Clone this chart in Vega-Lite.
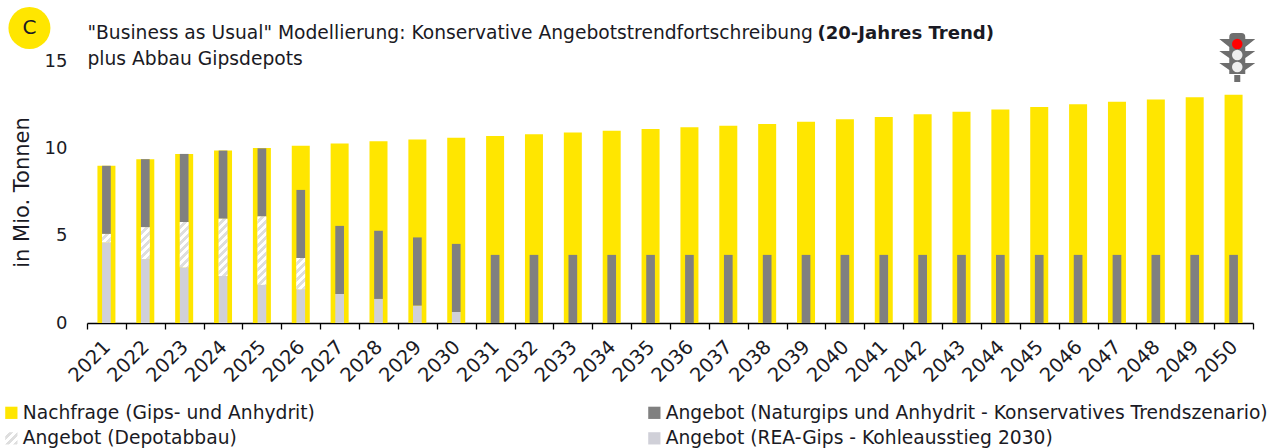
{
"$schema":"https://vega.github.io/schema/vega-lite/v6.json",
"width":1166,"height":262,
"autosize":{"type":"none"},
"padding":{"left":87,"top":61,"right":28,"bottom":125},
"background":"white",
"config":{"view":{"stroke":null},"font":"DejaVu Sans"},
"params":[{"name":"hatch","value":[
{"offset":0,"color":"#ffffff"},{"offset":0.05,"color":"#ffffff"},{"offset":0.05,"color":"#dedede"},{"offset":0.1,"color":"#dedede"},
{"offset":0.1,"color":"#ffffff"},{"offset":0.15,"color":"#ffffff"},{"offset":0.15,"color":"#dedede"},{"offset":0.2,"color":"#dedede"},
{"offset":0.2,"color":"#ffffff"},{"offset":0.25,"color":"#ffffff"},{"offset":0.25,"color":"#dedede"},{"offset":0.3,"color":"#dedede"},
{"offset":0.3,"color":"#ffffff"},{"offset":0.35,"color":"#ffffff"},{"offset":0.35,"color":"#dedede"},{"offset":0.4,"color":"#dedede"},
{"offset":0.4,"color":"#ffffff"},{"offset":0.45,"color":"#ffffff"},{"offset":0.45,"color":"#dedede"},{"offset":0.5,"color":"#dedede"},
{"offset":0.5,"color":"#ffffff"},{"offset":0.55,"color":"#ffffff"},{"offset":0.55,"color":"#dedede"},{"offset":0.6,"color":"#dedede"},
{"offset":0.6,"color":"#ffffff"},{"offset":0.65,"color":"#ffffff"},{"offset":0.65,"color":"#dedede"},{"offset":0.7,"color":"#dedede"},
{"offset":0.7,"color":"#ffffff"},{"offset":0.75,"color":"#ffffff"},{"offset":0.75,"color":"#dedede"},{"offset":0.8,"color":"#dedede"},
{"offset":0.8,"color":"#ffffff"},{"offset":0.85,"color":"#ffffff"},{"offset":0.85,"color":"#dedede"},{"offset":0.9,"color":"#dedede"},
{"offset":0.9,"color":"#ffffff"},{"offset":0.95,"color":"#ffffff"},{"offset":0.95,"color":"#dedede"},{"offset":1,"color":"#dedede"}
]}],
"datasets":{"rows":[
{"year":"2021","series":"Nachfrage (Gips- und Anhydrit)","value":9.0,"rank":0},
{"year":"2022","series":"Nachfrage (Gips- und Anhydrit)","value":9.38,"rank":0},
{"year":"2023","series":"Nachfrage (Gips- und Anhydrit)","value":9.68,"rank":0},
{"year":"2024","series":"Nachfrage (Gips- und Anhydrit)","value":9.87,"rank":0},
{"year":"2025","series":"Nachfrage (Gips- und Anhydrit)","value":10.02,"rank":0},
{"year":"2026","series":"Nachfrage (Gips- und Anhydrit)","value":10.15,"rank":0},
{"year":"2027","series":"Nachfrage (Gips- und Anhydrit)","value":10.28,"rank":0},
{"year":"2028","series":"Nachfrage (Gips- und Anhydrit)","value":10.4,"rank":0},
{"year":"2029","series":"Nachfrage (Gips- und Anhydrit)","value":10.5,"rank":0},
{"year":"2030","series":"Nachfrage (Gips- und Anhydrit)","value":10.6,"rank":0},
{"year":"2031","series":"Nachfrage (Gips- und Anhydrit)","value":10.7,"rank":0},
{"year":"2032","series":"Nachfrage (Gips- und Anhydrit)","value":10.8,"rank":0},
{"year":"2033","series":"Nachfrage (Gips- und Anhydrit)","value":10.9,"rank":0},
{"year":"2034","series":"Nachfrage (Gips- und Anhydrit)","value":11.0,"rank":0},
{"year":"2035","series":"Nachfrage (Gips- und Anhydrit)","value":11.1,"rank":0},
{"year":"2036","series":"Nachfrage (Gips- und Anhydrit)","value":11.2,"rank":0},
{"year":"2037","series":"Nachfrage (Gips- und Anhydrit)","value":11.3,"rank":0},
{"year":"2038","series":"Nachfrage (Gips- und Anhydrit)","value":11.4,"rank":0},
{"year":"2039","series":"Nachfrage (Gips- und Anhydrit)","value":11.52,"rank":0},
{"year":"2040","series":"Nachfrage (Gips- und Anhydrit)","value":11.66,"rank":0},
{"year":"2041","series":"Nachfrage (Gips- und Anhydrit)","value":11.8,"rank":0},
{"year":"2042","series":"Nachfrage (Gips- und Anhydrit)","value":11.95,"rank":0},
{"year":"2043","series":"Nachfrage (Gips- und Anhydrit)","value":12.1,"rank":0},
{"year":"2044","series":"Nachfrage (Gips- und Anhydrit)","value":12.22,"rank":0},
{"year":"2045","series":"Nachfrage (Gips- und Anhydrit)","value":12.37,"rank":0},
{"year":"2046","series":"Nachfrage (Gips- und Anhydrit)","value":12.52,"rank":0},
{"year":"2047","series":"Nachfrage (Gips- und Anhydrit)","value":12.66,"rank":0},
{"year":"2048","series":"Nachfrage (Gips- und Anhydrit)","value":12.8,"rank":0},
{"year":"2049","series":"Nachfrage (Gips- und Anhydrit)","value":12.93,"rank":0},
{"year":"2050","series":"Nachfrage (Gips- und Anhydrit)","value":13.07,"rank":0},
{"year":"2021","series":"Angebot (REA-Gips - Kohleausstieg 2030)","value":4.62,"rank":1},
{"year":"2022","series":"Angebot (REA-Gips - Kohleausstieg 2030)","value":3.66,"rank":1},
{"year":"2023","series":"Angebot (REA-Gips - Kohleausstieg 2030)","value":3.19,"rank":1},
{"year":"2024","series":"Angebot (REA-Gips - Kohleausstieg 2030)","value":2.69,"rank":1},
{"year":"2025","series":"Angebot (REA-Gips - Kohleausstieg 2030)","value":2.19,"rank":1},
{"year":"2026","series":"Angebot (REA-Gips - Kohleausstieg 2030)","value":1.93,"rank":1},
{"year":"2027","series":"Angebot (REA-Gips - Kohleausstieg 2030)","value":1.66,"rank":1},
{"year":"2028","series":"Angebot (REA-Gips - Kohleausstieg 2030)","value":1.38,"rank":1},
{"year":"2029","series":"Angebot (REA-Gips - Kohleausstieg 2030)","value":1.0,"rank":1},
{"year":"2030","series":"Angebot (REA-Gips - Kohleausstieg 2030)","value":0.63,"rank":1},
{"year":"2021","series":"Angebot (Depotabbau)","value":0.48,"rank":2},
{"year":"2022","series":"Angebot (Depotabbau)","value":1.82,"rank":2},
{"year":"2023","series":"Angebot (Depotabbau)","value":2.59,"rank":2},
{"year":"2024","series":"Angebot (Depotabbau)","value":3.28,"rank":2},
{"year":"2025","series":"Angebot (Depotabbau)","value":3.91,"rank":2},
{"year":"2026","series":"Angebot (Depotabbau)","value":1.79,"rank":2},
{"year":"2021","series":"Angebot (Naturgips und Anhydrit - Konservatives Trendszenario)","value":3.9,"rank":3},
{"year":"2022","series":"Angebot (Naturgips und Anhydrit - Konservatives Trendszenario)","value":3.9,"rank":3},
{"year":"2023","series":"Angebot (Naturgips und Anhydrit - Konservatives Trendszenario)","value":3.9,"rank":3},
{"year":"2024","series":"Angebot (Naturgips und Anhydrit - Konservatives Trendszenario)","value":3.9,"rank":3},
{"year":"2025","series":"Angebot (Naturgips und Anhydrit - Konservatives Trendszenario)","value":3.9,"rank":3},
{"year":"2026","series":"Angebot (Naturgips und Anhydrit - Konservatives Trendszenario)","value":3.9,"rank":3},
{"year":"2027","series":"Angebot (Naturgips und Anhydrit - Konservatives Trendszenario)","value":3.9,"rank":3},
{"year":"2028","series":"Angebot (Naturgips und Anhydrit - Konservatives Trendszenario)","value":3.9,"rank":3},
{"year":"2029","series":"Angebot (Naturgips und Anhydrit - Konservatives Trendszenario)","value":3.9,"rank":3},
{"year":"2030","series":"Angebot (Naturgips und Anhydrit - Konservatives Trendszenario)","value":3.9,"rank":3},
{"year":"2031","series":"Angebot (Naturgips und Anhydrit - Konservatives Trendszenario)","value":3.9,"rank":3},
{"year":"2032","series":"Angebot (Naturgips und Anhydrit - Konservatives Trendszenario)","value":3.9,"rank":3},
{"year":"2033","series":"Angebot (Naturgips und Anhydrit - Konservatives Trendszenario)","value":3.9,"rank":3},
{"year":"2034","series":"Angebot (Naturgips und Anhydrit - Konservatives Trendszenario)","value":3.9,"rank":3},
{"year":"2035","series":"Angebot (Naturgips und Anhydrit - Konservatives Trendszenario)","value":3.9,"rank":3},
{"year":"2036","series":"Angebot (Naturgips und Anhydrit - Konservatives Trendszenario)","value":3.9,"rank":3},
{"year":"2037","series":"Angebot (Naturgips und Anhydrit - Konservatives Trendszenario)","value":3.9,"rank":3},
{"year":"2038","series":"Angebot (Naturgips und Anhydrit - Konservatives Trendszenario)","value":3.9,"rank":3},
{"year":"2039","series":"Angebot (Naturgips und Anhydrit - Konservatives Trendszenario)","value":3.9,"rank":3},
{"year":"2040","series":"Angebot (Naturgips und Anhydrit - Konservatives Trendszenario)","value":3.9,"rank":3},
{"year":"2041","series":"Angebot (Naturgips und Anhydrit - Konservatives Trendszenario)","value":3.9,"rank":3},
{"year":"2042","series":"Angebot (Naturgips und Anhydrit - Konservatives Trendszenario)","value":3.9,"rank":3},
{"year":"2043","series":"Angebot (Naturgips und Anhydrit - Konservatives Trendszenario)","value":3.9,"rank":3},
{"year":"2044","series":"Angebot (Naturgips und Anhydrit - Konservatives Trendszenario)","value":3.9,"rank":3},
{"year":"2045","series":"Angebot (Naturgips und Anhydrit - Konservatives Trendszenario)","value":3.9,"rank":3},
{"year":"2046","series":"Angebot (Naturgips und Anhydrit - Konservatives Trendszenario)","value":3.9,"rank":3},
{"year":"2047","series":"Angebot (Naturgips und Anhydrit - Konservatives Trendszenario)","value":3.9,"rank":3},
{"year":"2048","series":"Angebot (Naturgips und Anhydrit - Konservatives Trendszenario)","value":3.9,"rank":3},
{"year":"2049","series":"Angebot (Naturgips und Anhydrit - Konservatives Trendszenario)","value":3.9,"rank":3},
{"year":"2050","series":"Angebot (Naturgips und Anhydrit - Konservatives Trendszenario)","value":3.9,"rank":3}
]},
"data":{"name":"rows"},
"encoding":{
"x":{"field":"year","type":"ordinal","scale":{"paddingInner":0,"paddingOuter":0},"axis":{"title":null,"tickBand":"extent","labelAngle":-45,"labelAlign":"right","labelBaseline":"top","labelFontSize":19.5,"labelColor":"#1a1a24","labelFont":"DejaVu Sans","labelOverlap":false,"labelPadding":8,"labelOffset":-6,"domainColor":"#000000","tickColor":"#000000","tickSize":6,"domainWidth":1.3,"tickWidth":1.3,"grid":false}},
"y":{"field":"value","type":"quantitative","scale":{"domain":[0,15]},"axis":{"title":"in Mio. Tonnen","values":[0,5,10,15],"grid":false,"domain":false,"ticks":false,"labelPadding":20,"labelFontSize":18,"labelColor":"#1a1a24","labelFont":"DejaVu Sans","titleFontSize":21,"titleFontWeight":"normal","titleFont":"DejaVu Sans","titleColor":"#1a1a24","titlePadding":12}}
},
"layer":[
{"transform":[{"filter":"datum.rank == 0"}],
 "mark":{"type":"bar","size":18,"clip":false},
 "encoding":{
  "y":{"field":"value","type":"quantitative","stack":null},
  "color":{"field":"series","type":"nominal","scale":{
    "domain":["Nachfrage (Gips- und Anhydrit)","Angebot (Depotabbau)","Angebot (Naturgips und Anhydrit - Konservatives Trendszenario)","Angebot (REA-Gips - Kohleausstieg 2030)"],
    "range":["#ffe600",{"expr":"{gradient:'linear',x1:0,y1:0,x2:3.33,y2:3.33,stops:hatch}"},"#808080","#d0d0d8"]},
   "legend":{"title":null,"orient":"none","legendX":-85,"legendY":342,"columns":2,"columnPadding":330,"rowPadding":6,"symbolType":"square","symbolSize":150,"symbolStrokeWidth":0,"labelFontSize":18.7,"labelColor":"#1a1a24","labelFont":"DejaVu Sans","labelOffset":2,"labelLimit":700}}
 }},
{"transform":[{"filter":"datum.rank > 0"}],
 "mark":{"type":"bar","size":8.7},
 "encoding":{
  "y":{"field":"value","type":"quantitative","stack":"zero"},
  "color":{"field":"series","type":"nominal"},
  "order":{"field":"rank","type":"quantitative"}
 }},
{"transform":[{"filter":"datum.rank > 0"}],
 "mark":{"type":"bar","size":8.7},
 "encoding":{
  "y":{"field":"value","type":"quantitative","stack":"zero"},
  "order":{"field":"rank","type":"quantitative"},
  "fill":{"condition":[
   {"test":"datum.rank==2 && datum.year=='2021'","value":{"expr":"{gradient:'linear',x1:0,y1:0,x2:4.76,y2:4.59,stops:hatch}"}},
   {"test":"datum.rank==2 && datum.year=='2022'","value":{"expr":"{gradient:'linear',x1:0,y1:0,x2:0.64,y2:2.34,stops:hatch}"}},
   {"test":"datum.rank==2 && datum.year=='2023'","value":{"expr":"{gradient:'linear',x1:0,y1:0,x2:0.328,y2:1.706,stops:hatch}"}},
   {"test":"datum.rank==2 && datum.year=='2024'","value":{"expr":"{gradient:'linear',x1:0,y1:0,x2:0.207,y2:1.365,stops:hatch}"}},
   {"test":"datum.rank==2 && datum.year=='2025'","value":{"expr":"{gradient:'linear',x1:0,y1:0,x2:0.147,y2:1.152,stops:hatch}"}},
   {"test":"datum.rank==2 && datum.year=='2026'","value":{"expr":"{gradient:'linear',x1:0,y1:0,x2:0.66,y2:2.37,stops:hatch}"}}
  ],"value":"transparent"}
 }},
{"data":{"values":[{"label":"C","level":16.89}]},
 "mark":{"type":"point","filled":true,"shape":"circle","size":1764,"color":"#ffe600","opacity":1,"xOffset":-77},
 "encoding":{"x":{"datum":"2021","type":"ordinal"},"y":{"field":"level","type":"quantitative","stack":null}}},
{"data":{"values":[{"label":"C","level":16.89}]},
 "mark":{"type":"text","fontSize":20,"color":"#1a1a24","font":"DejaVu Sans","xOffset":-77},
 "encoding":{"x":{"datum":"2021","type":"ordinal"},"y":{"field":"level","type":"quantitative","stack":null},"text":{"field":"label"}}},
{"data":{"values":[{"label":"\"Business as Usual\" Modellierung: Konservative Angebotstrendfortschreibung","level":16.26},{"label":"plus Abbau Gipsdepots","level":14.77}]},
 "mark":{"type":"text","fontSize":18.7,"color":"#1a1a24","font":"DejaVu Sans","align":"left","baseline":"alphabetic","xOffset":-19},
 "encoding":{"x":{"datum":"2021","type":"ordinal"},"y":{"field":"level","type":"quantitative","stack":null},"text":{"field":"label"}}},
{"data":{"values":[{"label":"(20-Jahres Trend)","level":16.26}]},
 "mark":{"type":"text","fontSize":18.1,"fontWeight":"bold","color":"#1a1a24","font":"DejaVu Sans","align":"left","baseline":"alphabetic","xOffset":-27.5},
 "encoding":{"x":{"datum":"2040","type":"ordinal"},"y":{"field":"level","type":"quantitative","stack":null},"text":{"field":"label"}}},
{"data":{"values":[{"part":"signal","level":15.23}]},
 "mark":{"type":"point","filled":true,"size":4,"opacity":1,"color":"#6e6e6e","xOffset":3.7,
  "shape":"M-8-20Q-8-24-4-24H4Q8-24 8-20V17H-8ZM-3 18H3V25H-3ZM-18-18H-8V-10ZM-18-6H-8V1ZM-18 6H-8V13ZM18-18H8V-10ZM18-6H8V1ZM18 6H8V13Z"},
 "encoding":{"x":{"datum":"2050","type":"ordinal"},"y":{"field":"level","type":"quantitative","stack":null}}},
{"data":{"values":[{"lamp":"rot","level":15.97},{"lamp":"gelb","level":15.34},{"lamp":"gruen","level":14.66}]},
 "mark":{"type":"point","filled":true,"shape":"circle","size":110,"opacity":1,"xOffset":3.7},
 "encoding":{"x":{"datum":"2050","type":"ordinal"},"y":{"field":"level","type":"quantitative","stack":null},
  "fill":{"condition":{"test":"datum.lamp=='rot'","value":"#ff0000"},"value":"#eeeeee"}}}
]
}
